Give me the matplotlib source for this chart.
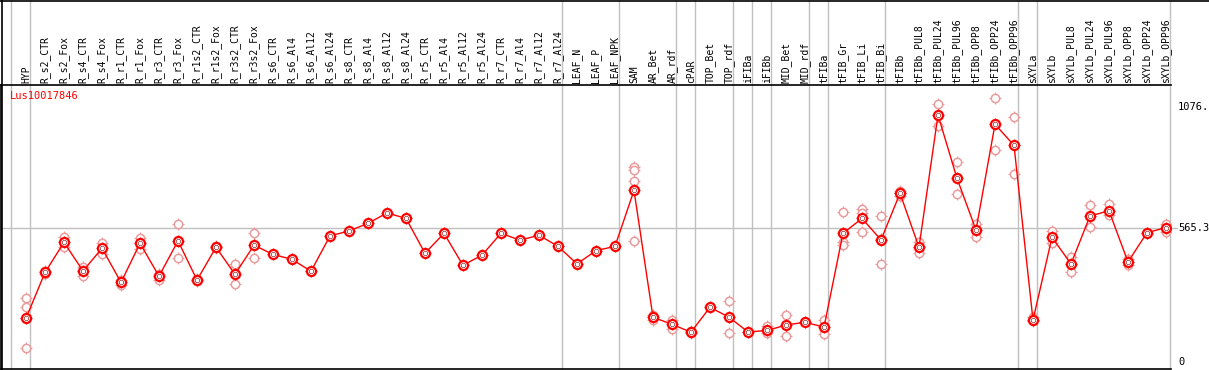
import numpy as np
import matplotlib
matplotlib.use("Agg")
from matplotlib import pyplot as plt
from matplotlib.transforms import blended_transform_factory

# kolom namen (samples)
labels = ["HYP", "R_s2_CTR", "R_s2_Fox", "R_s4_CTR", "R_s4_Fox", "R_r1_CTR", "R_r1_Fox",
          "R_r3_CTR", "R_r3_Fox", "R_r1s2_CTR", "R_r1s2_Fox", "R_r3s2_CTR", "R_r3s2_Fox",
          "R_s6_CTR", "R_s6_Al4", "R_s6_Al12", "R_s6_Al24", "R_s8_CTR", "R_s8_Al4",
          "R_s8_Al12", "R_s8_Al24", "R_r5_CTR", "R_r5_Al4", "R_r5_Al12", "R_r5_Al24",
          "R_r7_CTR", "R_r7_Al4", "R_r7_Al12", "R_r7_Al24", "LEAF_N", "LEAF_P", "LEAF_NPK",
          "SAM", "AR_Bet", "AR_rdf", "cPAR", "TOP_Bet", "TOP_rdf", "iFIBa", "iFIBb",
          "MID_Bet", "MID_rdf", "tFIBa", "tFIB_Gr", "tFIB_Li", "tFIB_Bi", "tFIBb",
          "tFIBb_PUL8", "tFIBb_PUL24", "tFIBb_PUL96", "tFIBb_OPP8", "tFIBb_OPP24",
          "tFIBb_OPP96", "sXYLa", "sXYLb", "sXYLb_PUL8", "sXYLb_PUL24", "sXYLb_PUL96",
          "sXYLb_OPP8", "sXYLb_OPP24", "sXYLb_OPP96"]

# gemiddelde expressie per kolom
means = [184, 378, 505, 384, 480, 336, 501, 362, 511, 346, 484, 370, 493,
         454, 433, 383, 532, 553, 585, 629, 606, 459, 543, 408, 451,
         543, 514, 535, 488, 414, 470, 488,
         724, 189, 159, 126, 231, 189, 127, 133, 156, 168, 147,
         543, 606, 515, 712, 484, 1042, 775, 557, 1003, 914,
         177, 526, 414, 616, 638, 422, 546, 567]

# losse replicaten per kolom
reps = [[269, 231, 58], [385, 372], [529, 486], [400, 364], [503, 454], [348, 324],
        [524, 475], [373, 347], [581, 438], [350, 342], [488, 480], [412, 328], [543, 440],
        [], [], [], [], [], [], [], [], [], [], [], [], [], [], [], [], [], [], [],
        [822, 810, 762, 509], [197, 177], [179, 139], [130, 122], [], [257, 122], [],
        [151, 121], [198, 108], [], [176, 120],
        [632, 505, 492], [647, 630, 547], [615, 519, 414], [723, 712, 702], [505, 461],
        [1087, 996], [843, 708], [581, 529], [1113, 893], [1033, 793],
        [191, 173], [553, 501], [442, 378], [661, 570], [667, 619], [436, 408], [546],
        [581, 550]]

# laatste kolom van elke groep, hier komt een grijze scheidingslijn
group_ends = [-1, 0, 28, 31, 34, 35, 37, 38, 39, 41, 42, 45, 52, 53, 60]

gene = "Lus10017846"
ref_value = 565.3
top_label = "1076."

W, H = 1209, 370
fig = plt.figure(figsize=(W / 100, H / 100), dpi=100)
ax = fig.add_axes([1 / W, 1 - 369 / H, 1170 / W, 284 / H])

xs = np.arange(len(labels))
ax.set_xlim((1 - 26) / 19, (1171 - 26) / 19)
ax.set_ylim(-29.5, 1168.8)
ax.set_xticks([])
ax.set_yticks([])
for s in ["left", "bottom", "top"]:
    ax.spines[s].set_color("black")
    ax.spines[s].set_linewidth(1.2)
ax.spines["right"].set_visible(False)

mono = "DejaVu Sans Mono"
fs = 7

# grijze lijnen
trans_x = blended_transform_factory(ax.transData, fig.transFigure)
for g in group_ends:
    ax.plot([g + 0.22, g + 0.22], [0, 1], transform=trans_x, color="#c0c0c0",
            lw=1, clip_on=False, zorder=0)
ax.axhline(ref_value, xmin=0, xmax=1.005, color="#c0c0c0", lw=1, clip_on=False, zorder=0)

# rand bovenaan en links in de kop
fig.add_artist(plt.Line2D([0, 1], [1 - 0.5 / H, 1 - 0.5 / H], transform=fig.transFigure,
                          color="black", lw=1.2))
fig.add_artist(plt.Line2D([1.5 / W, 1.5 / W], [0, 1], transform=fig.transFigure,
                          color="black", lw=1.2))

# kolom labels
for i, lab in enumerate(labels):
    ax.text(i, 1 - 83 / H, lab, transform=trans_x, rotation=90, ha="center",
            va="bottom", fontsize=fs, family=mono, color="black")

# replicaten: een plusje met een witte cirkel erover, zo blijven alleen de streepjes over
for i, r in enumerate(reps):
    if len(r) == 0:
        continue
    ax.plot([i] * len(r), r, "+", ms=8.5, mec="#eb9b9b", mew=0.8, zorder=2)
    ax.plot([i] * len(r), r, "o", ms=6, mfc="white", mec="#eb9b9b", mew=1.1, zorder=2)

# gemiddelde lijn
ax.plot(xs, means, color="red", lw=1, zorder=3)
ax.plot(xs, means, "+", ms=9, mec="red", mew=0.9, zorder=4)
ax.plot(xs, means, "o", ms=6.5, mfc="white", mec="red", mew=1.6, zorder=5)
ax.plot(xs, means, "o", ms=3.2, mfc="none", mec="#7a0000", mew=0.4, zorder=6)

# gen naam
ax.text(8.5 / 1170, 1 - 6 / 284, gene, transform=ax.transAxes, ha="left", va="top",
        fontsize=fs + 0.5, family=mono, color="red")

# waarden rechts
trans_y = blended_transform_factory(fig.transFigure, ax.transData)
for v, t in [(1076, top_label), (ref_value, "565.3"), (0, "0")]:
    ax.text(1178 / W, v, t, transform=trans_y, ha="left", va="center",
            fontsize=fs + 0.5, family=mono, color="black")

fig.savefig("out.png", dpi=100)
plt.close()
